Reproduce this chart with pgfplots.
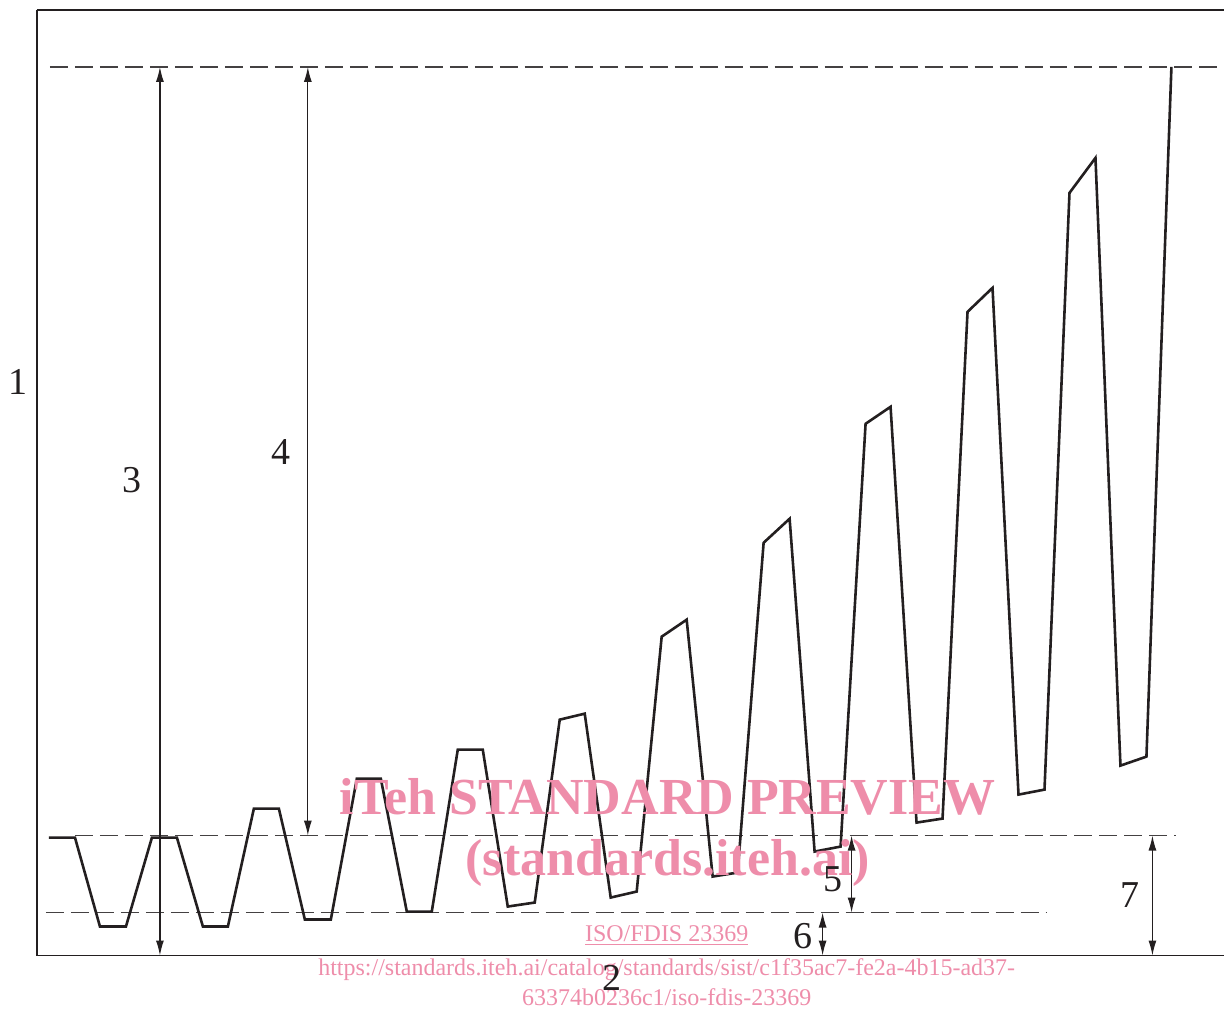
\documentclass[border=0pt]{standalone}
\usepackage{pgfplots}
\pgfplotsset{compat=1.18}
\usepackage{fontspec}
\setmainfont{Liberation Serif}
\usetikzlibrary{arrows.meta}
\definecolor{ink}{RGB}{35,31,32}
\definecolor{wm}{RGB}{238,141,170}
\begin{document}
\begin{tikzpicture}[
  dim/.style={ink, line width=0.6pt, {Latex[length=7.5pt,width=4pt]}-{Latex[length=7.5pt,width=4pt]}},
  ref/.style={ink!85, line width=0.6pt, dash pattern=on 9pt off 3.5pt},
  lbl/.style={font=\fontsize{19}{19}\selectfont, text=ink},
]
\begin{axis}[
  scale only axis,
  width=594pt, height=473pt,
  xmin=37, xmax=1225, ymin=0, ymax=946,
  axis x line=box, axis y line=left,
  axis line style={ink, line width=0.6pt, -},
  xtick=\empty, ytick=\empty,
  clip=false,
]
% invisible frame to fix the page size (pixel grid of the reference)
\path (axis cs:0,-54) rectangle (axis cs:1225,956);

% reference levels
\addplot[ref] coordinates {(50,889) (1225,889)};
\addplot[ref] coordinates {(75,120) (1177,120)};
\addplot[ref] coordinates {(46,43) (1048,43)};

% load signal
\addplot[ink, line width=1.3pt, line join=miter] coordinates {
(49,118) (75,118) (100,29) (126,29) (152,118) (177,118) (203,29) (228,29)
(254,147) (279,147) (305,36) (331,36) (357,177) (381,177) (407,44) (432,44)
(458,206) (483,206) (508,49) (535,53) (560,236) (585,242) (611,58) (637,64)
(662,319) (687,336) (713,79) (738,83) (764,413) (790,437) (815,104) (841,109)
(866,532) (891,549) (917,133) (943,137) (968,644) (993,668) (1019,161) (1045,166)
(1070,763) (1096,798) (1121,190) (1147,199) (1172,889)
};

% dimension arrows
\addplot[dim] coordinates {(160,889) (160,0)};
\addplot[dim] coordinates {(308,889) (308,120)};
\addplot[dim] coordinates {(852,120) (852,43)};
\addplot[dim] coordinates {(823,43) (823,0)};
\addplot[dim] coordinates {(1153,120) (1153,0)};

% watermark
\node[text=wm, font=\fontsize{26}{30.5}\selectfont\bfseries, align=center]
  at (axis cs:668,123) {iTeh STANDARD PREVIEW\\(standards.iteh.ai)};
\node[text=wm, font=\fontsize{12}{12}\selectfont] at (axis cs:667,20) {\underline{ISO/FDIS 23369}};
\node[text=wm, font=\fontsize{12}{15}\selectfont, align=center] at (axis cs:667,-27)
  {https://standards.iteh.ai/catalog/standards/sist/c1f35ac7-fe2a-4b15-ad37-\\63374b0236c1/iso-fdis-23369};

% key labels
\node[lbl] at (axis cs:18,574) {1};
\node[lbl] at (axis cs:612,-22) {2};
\node[lbl] at (axis cs:132,476) {3};
\node[lbl] at (axis cs:281,504) {4};
\node[lbl] at (axis cs:833,76) {5};
\node[lbl] at (axis cs:803,19) {6};
\node[lbl] at (axis cs:1131,60) {7};
\end{axis}
\end{tikzpicture}
\end{document}
